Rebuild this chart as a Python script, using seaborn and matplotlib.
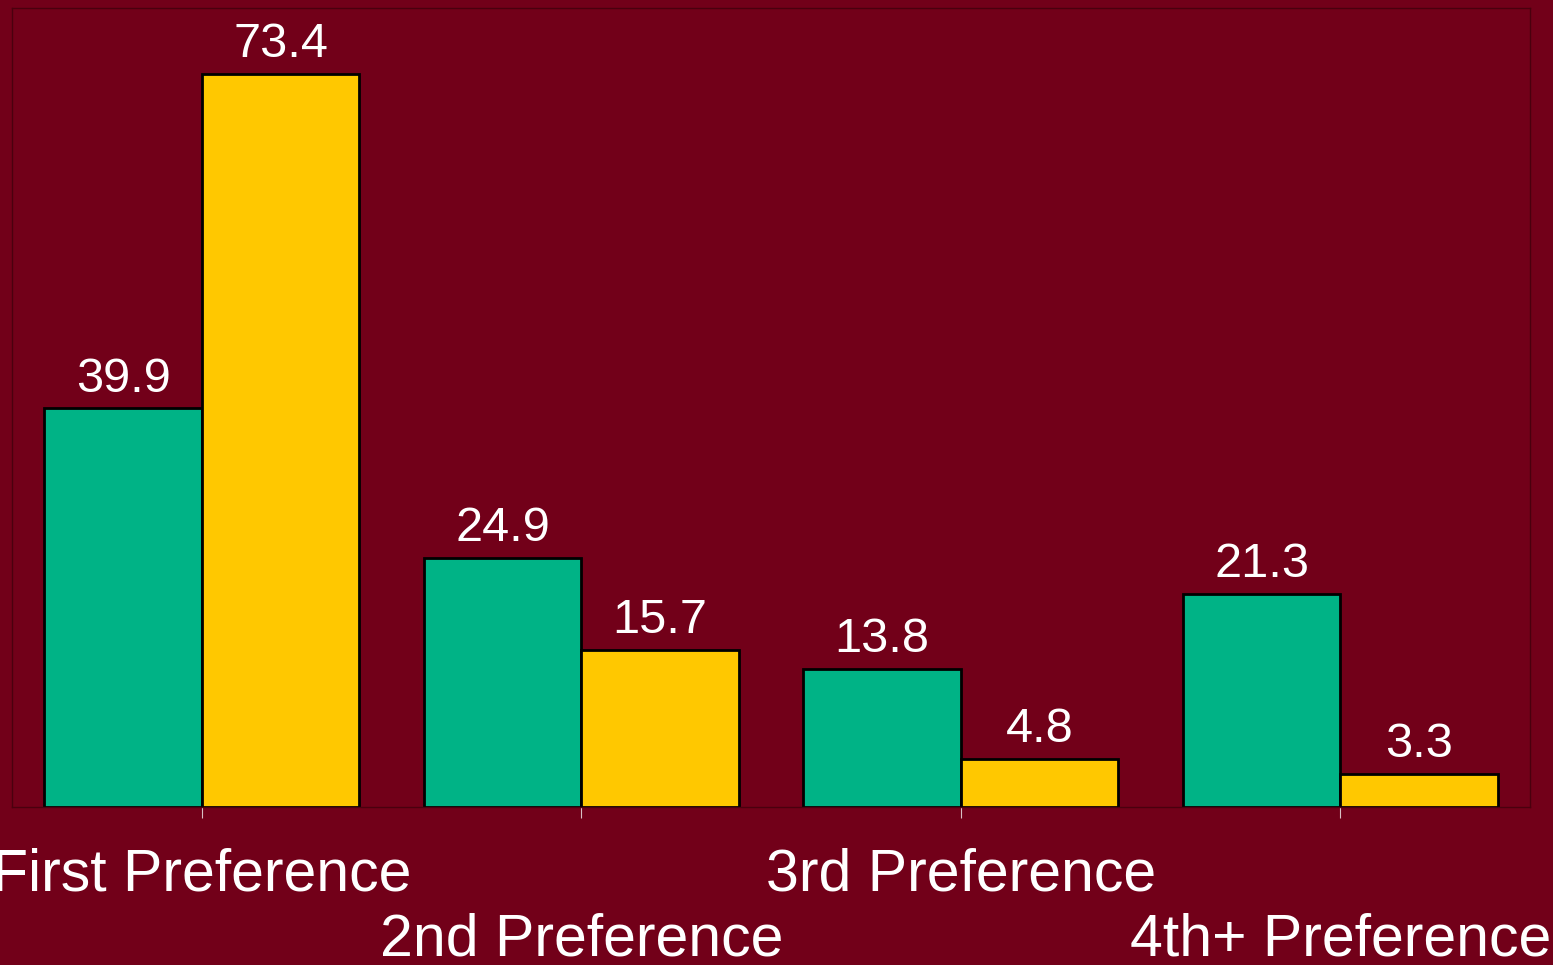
import matplotlib
matplotlib.use('Agg')
import matplotlib.pyplot as plt
import seaborn as sns
import pandas as pd

categories = ['First Preference', '2nd Preference', '3rd Preference', '4th+ Preference']
series_names = ['Series 1', 'Series 2']
green_values = [39.9, 24.9, 13.8, 21.3]
yellow_values = [73.4, 15.7, 4.8, 3.3]

bg = '#720019'
colors = ['#00b386', '#ffc800']

df = pd.DataFrame({
    'category': categories * 2,
    'series': [series_names[0]] * 4 + [series_names[1]] * 4,
    'value': green_values + yellow_values,
})

sns.set_theme(style='white')
plt.rcParams['font.family'] = ['Liberation Sans', 'DejaVu Sans']

fig = plt.figure(figsize=(15.53, 9.65), dpi=100, facecolor=bg)
ax = fig.add_axes([12 / 1553, 158 / 965, 1518 / 1553, 799 / 965])
ax.set_facecolor(bg)

sns.barplot(data=df, x='category', y='value', hue='series', palette=colors,
            saturation=1, width=0.83, gap=0, edgecolor='black', linewidth=2,
            legend=False, ax=ax)

for c in ax.containers:
    ax.bar_label(c, fmt='%.1f', color='white', fontsize=35, padding=5)

ax.set_xlim(-0.5, 3.5)
ax.set_ylim(0, 80)
ax.set_yticks([])
ax.set_xlabel('')
ax.set_ylabel('')

ax.tick_params(axis='x', colors='#d8c0c4', length=8, width=0.8,
               labelsize=42.5, labelcolor='white', bottom=True)
for i, tick in enumerate(ax.xaxis.get_major_ticks()):
    tick.set_pad(21 if i % 2 == 0 else 68)

for s in ax.spines.values():
    s.set_color('#4a000e')
    s.set_linewidth(1)

fig.savefig('out.png', dpi=100, facecolor=bg)
